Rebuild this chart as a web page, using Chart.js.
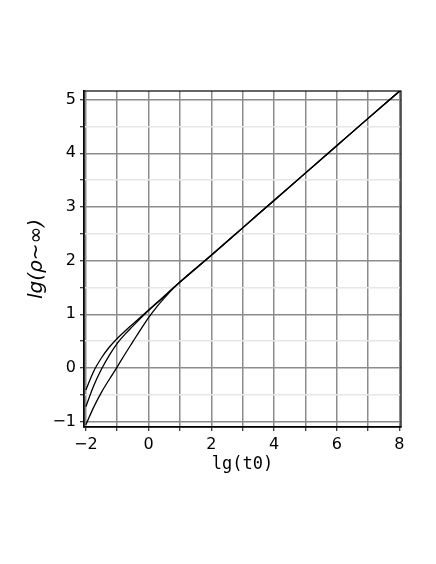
<!DOCTYPE html>
<html>
<head>
<meta charset="utf-8">
<script src="https://cdn.jsdelivr.net/npm/chart.js@4.4.0/dist/chart.umd.min.js"></script>
<style>
  body { margin: 0; background: #fff; }
</style>
</head>
<body>
<canvas id="rhoChart" width="436" height="564"></canvas>
<script>
// lg(t0) sample points
var lgT0 = [-2, -1.75, -1.5, -1.25, -1, -0.75, -0.5, -0.25, 0, 0.25, 0.5, 0.75, 1, 2, 3, 4, 5, 6, 7, 8.03];
// three curves, they merge into one line after lg(t0) ~ 1
var rhoTop = [-0.41, -0.06, 0.19, 0.39, 0.55, 0.69, 0.82, 0.95, 1.08, 1.21, 1.34, 1.47, 1.60, 2.10, 2.61, 3.12, 3.63, 4.14, 4.65, 5.17];
var rhoMid = [-0.72, -0.33, -0.02, 0.24, 0.46, 0.63, 0.78, 0.93, 1.07, 1.20, 1.33, 1.47, 1.60, 2.10, 2.61, 3.12, 3.63, 4.14, 4.65, 5.17];
var rhoLow = [-1.06, -0.73, -0.45, -0.21, 0.02, 0.26, 0.49, 0.72, 0.94, 1.13, 1.30, 1.46, 1.60, 2.10, 2.61, 3.12, 3.63, 4.14, 4.65, 5.17];

var xTicks = [-2, -1, 0, 1, 2, 3, 4, 5, 6, 7, 8];
var xTickLabels = ['−2', '', '0', '', '2', '', '4', '', '6', '', '8'];
var yTicks = [-1, -0.5, 0, 0.5, 1, 1.5, 2, 2.5, 3, 3.5, 4, 4.5, 5];
var yTickLabels = ['−1', '', '0', '', '1', '', '2', '', '3', '', '4', '', '5'];

function toPoints(ys) {
  return lgT0.map(function(x, i) { return {x: x, y: ys[i]}; });
}

function lineSet(ys) {
  return {
    data: toPoints(ys),
    borderColor: '#000',
    borderWidth: 1.3,
    pointRadius: 0,
    fill: false,
    cubicInterpolationMode: 'monotone'
  };
}

// plot frame (top and right edges too)
var frame = {
  id: 'frame',
  afterDatasetsDraw: function(chart) {
    var a = chart.chartArea, c = chart.ctx;
    c.save();
    c.strokeStyle = '#000';
    c.lineWidth = 1.2;
    c.strokeRect(a.left, a.top, a.right - a.left, a.bottom - a.top);
    c.restore();
  }
};

function gridColor(ctx) {
  if (!ctx.tick) return '#8c8c8c';
  return Number.isInteger(ctx.tick.value) ? '#8c8c8c' : '#e6e6e6';
}

new Chart(document.getElementById('rhoChart').getContext('2d'), {
  type: 'line',
  data: { datasets: [lineSet(rhoTop), lineSet(rhoMid), lineSet(rhoLow)] },
  plugins: [frame],
  options: {
    responsive: false,
    animation: false,
    layout: { padding: { top: 91, right: 35, left: 0, bottom: 0 } },
    plugins: { legend: { display: false }, tooltip: { enabled: false } },
    scales: {
      x: {
        type: 'linear',
        min: -2.06,
        max: 8.05,
        afterBuildTicks: function(s) { s.ticks = xTicks.map(function(v) { return {value: v}; }); },
        afterFit: function(s) { s.height = 137; },
        ticks: {
          autoSkip: false,
          maxRotation: 0,
          padding: 4,
          color: '#000',
          font: { family: 'DejaVu Sans', size: 16 },
          callback: function(v, i) { return xTickLabels[i]; }
        },
        grid: { color: gridColor, lineWidth: 1.5, tickColor: '#000', tickLength: 4, tickWidth: 1 },
        border: { color: '#000', width: 1.5 },
        title: {
          display: true,
          text: 'lg(t0)',
          color: '#000',
          font: { family: 'DejaVu Sans Mono', size: 17 },
          padding: { top: 0, bottom: 89 }
        }
      },
      y: {
        type: 'linear',
        min: -1.1,
        max: 5.16,
        afterBuildTicks: function(s) { s.ticks = yTicks.map(function(v) { return {value: v}; }); },
        afterFit: function(s) { s.width = 84; },
        ticks: {
          autoSkip: false,
          padding: 4,
          color: '#000',
          font: { family: 'DejaVu Sans', size: 16 },
          callback: function(v, i) { return yTickLabels[i]; }
        },
        grid: { color: gridColor, lineWidth: 1.5, tickColor: '#000', tickLength: 4, tickWidth: 1 },
        border: { color: '#000', width: 1.5 },
        title: {
          display: true,
          text: 'lg(ρ~∞)',
          color: '#000',
          font: { family: 'DejaVu Sans', size: 20, style: 'italic' },
          padding: { top: 25, bottom: 0 }
        }
      }
    }
  }
});
</script>
</body>
</html>
